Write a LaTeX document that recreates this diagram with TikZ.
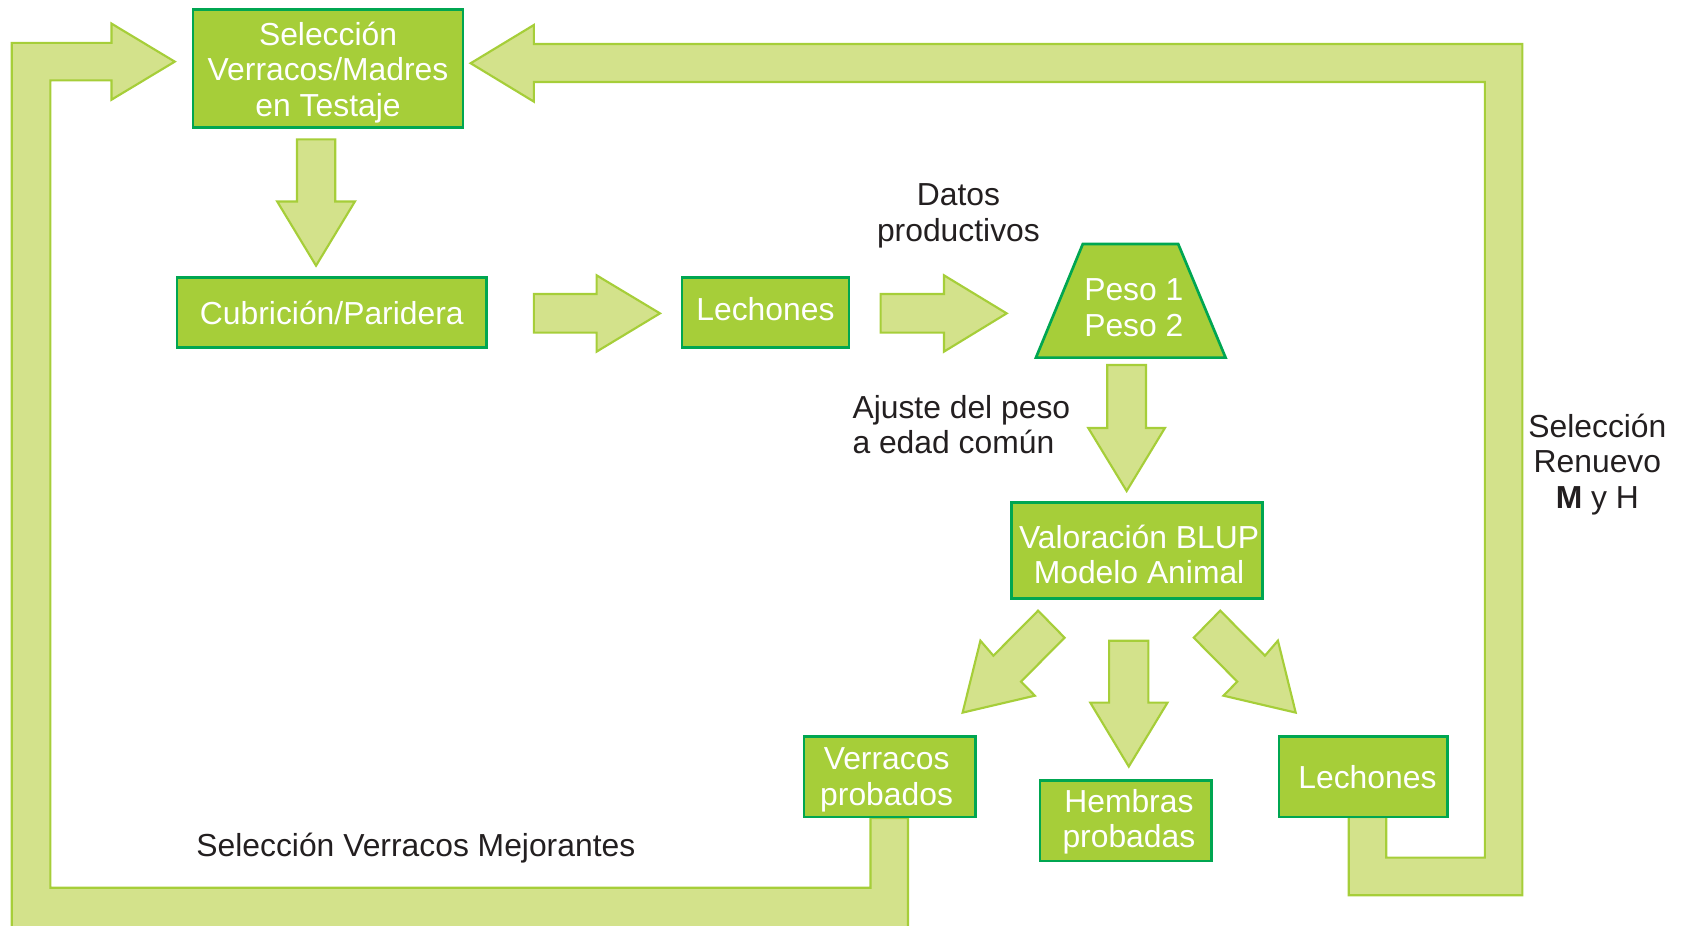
\documentclass[tikz,border=0pt]{standalone}
\usepackage{fontspec}
\setmainfont{Liberation Sans}
\definecolor{boxfill}{HTML}{A6CE39}
\definecolor{boxline}{HTML}{00A651}
\definecolor{arrfill}{HTML}{D3E28B}
\definecolor{arrline}{HTML}{A6CE39}
\definecolor{txt}{HTML}{231F20}
\begin{document}
\begin{tikzpicture}[x=1pt,y=-1pt,
  box/.style={draw=boxline, fill=boxfill, line width=2.5pt, inner sep=0pt},
  boxtxt/.style={text=white, inner sep=0pt, font=\fontsize{29.7}{33}\selectfont, align=center},
  blk/.style={draw=arrline, fill=arrfill, line width=2pt, line join=miter},
  lbl/.style={text=txt, font=\fontsize{29.7}{33}\selectfont, align=center, inner sep=0pt}]
\useasboundingbox (0,0) rectangle (1568,863);

% big loop arrows
\draw[blk] (812,763)--(847,763)--(847,875)--(11,875)--(11,40)--(104,40)--(104,22)--(163,57.5)
  --(104,93)--(104,75)--(47,75)--(47,828)--(812,828)--cycle;
\draw[blk] (1258,762)--(1293,762)--(1293,800)--(1385,800)--(1385,76.5)--(498,76.5)--(498,94.8)
  --(439,59)--(498,23.3)--(498,41)--(1420,41)--(1420,835)--(1258,835)--cycle;

% boxes
\node[box, minimum width=252pt, minimum height=110pt] (sel) at (306,64) {};
\node[boxtxt] (selt) at ([yshift=-3.5pt]sel.center) {Selección\\Verracos/Madres\\en Testaje};
\node[box, minimum width=289pt, minimum height=65pt] (cub) at (309.5,291.5) {};
\node[boxtxt] (cubt) at (cub.center) {Cubrición/Paridera};
\node[box, minimum width=156pt, minimum height=65pt] (lech1) at (714,291.5) {};
\node[boxtxt] (lech1t) at ([yshift=3pt]lech1.center) {Lechones};
\draw[draw=boxline, fill=boxfill, line width=2.5pt] (1010,227.6)--(1099,227.6)--(1143.2,333.6)--(966.3,333.6)--cycle;
\node[boxtxt] (peso) at (1057.6,287) {Peso 1\\Peso 2};
\node[box, minimum width=234pt, minimum height=89.5pt] (blup) at (1060.5,513.3) {};
\node[boxtxt] (blupt) at ([xshift=2pt,yshift=-4pt]blup.center) {Valoración BLUP\\Modelo Animal};
\node[box, minimum width=160pt, minimum height=75pt] (verr) at (830,724.5) {};
\node[boxtxt] (verrt) at ([xshift=-3pt,yshift=-3pt]verr.center) {Verracos\\probados};
\node[box, minimum width=160pt, minimum height=75pt] (hemb) at (1050,765.5) {};
\node[boxtxt] (hembt) at ([xshift=3pt,yshift=-1pt]hemb.center) {Hembras\\probadas};
\node[box, minimum width=157pt, minimum height=75pt] (lech2) at (1271.5,724.5) {};
\node[boxtxt] (lech2t) at ([xshift=4pt]lech2.center) {Lechones};

% block arrows
\draw[blk] (277,130)--(312.7,130)--(312.7,188)--(331,188)--(294.8,247.8)--(258.6,188)--(277,188)--cycle;
\draw[blk] (498,274.2)--(556.5,274.2)--(556.5,256.8)--(615.6,292.3)--(556.5,328)--(556.5,310.3)--(498,310.3)--cycle;
\draw[blk] (821.4,274.2)--(880.5,274.2)--(880.5,256.8)--(939,292.3)--(880.5,328)--(880.5,310.3)--(821.4,310.3)--cycle;
\draw[blk] (1032.8,340.5)--(1068.9,340.5)--(1068.9,399.2)--(1086.6,399.2)--(1050.9,458)--(1015.1,399.2)--(1032.8,399.2)--cycle;
\draw[blk] (1034.6,597.6)--(1071.2,597.6)--(1071.2,655.4)--(1089,655.4)--(1052.9,715)--(1017,655.4)--(1034.6,655.4)--cycle;
\draw[blk] (897.9,664.7)--(914.5,597.6)--(926.6,611.6)--(968.3,569.6)--(993,594.8)--(952.4,635.8)--(965.3,648.9)--cycle;
\draw[blk] (1208.6,664.7)--(1192,597.6)--(1179.9,611.6)--(1138.2,569.6)--(1113.5,594.8)--(1154.1,635.8)--(1141.2,648.9)--cycle;

% labels
\node[lbl] (datos) at (894,201.5) {Datos\\productivos};
\node[lbl, align=left, anchor=west] (ajuste) at (795,396) {Ajuste del peso\\a edad común};
\node[lbl] (renuevo) at (1490,433) {Selección\\Renuevo\\\textbf{M} y H};
\node[lbl, anchor=west] (mejor) at (183,791) {Selección Verracos Mejorantes};
\end{tikzpicture}
\end{document}
